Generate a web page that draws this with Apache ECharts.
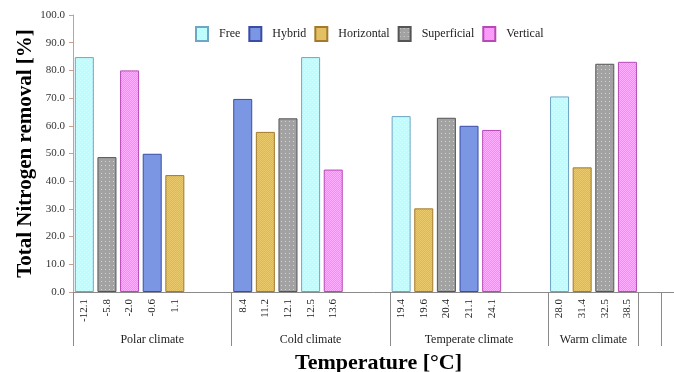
<!DOCTYPE html>
<html>
<head>
<meta charset="utf-8">
<script src="https://cdn.jsdelivr.net/npm/echarts@6/dist/echarts.min.js"></script>
<style>html,body{margin:0;padding:0;background:#fff;}#c{width:674px;height:372px;}</style>
</head>
<body>
<div id="c"></div>
<script>
// ---- data ----
const categories = ['-12.1','-5.8','-2.0','-0.6','1.1','','',
                    '8.4','11.2','12.1','12.5','13.6','','',
                    '19.4','19.6','20.4','21.1','24.1','','',
                    '28.0','31.4','32.5','38.5','',''];
const barTypes = ['Free','Superficial','Vertical','Hybrid','Horizontal','','',
                  'Hybrid','Horizontal','Superficial','Free','Vertical','','',
                  'Free','Horizontal','Superficial','Hybrid','Vertical','','',
                  'Free','Horizontal','Superficial','Vertical','',''];
const removal = [84.8,48.7,80.0,49.9,42.2,null,null,
                 69.7,57.8,62.7,84.8,44.2,null,null,
                 63.5,30.2,62.9,60.0,58.5,null,null,
                 70.6,45.0,82.4,83.1,null,null];
const seriesNames = ['Free','Hybrid','Horizontal','Superficial','Vertical'];
const groupNames = ['Polar climate','Cold climate','Temperate climate','Warm climate'];
const groupBounds = [0,7,14,21,25,26];
const groupCenters = [3.5,10.5,17.5,23];
const yTicks = [0,10,20,30,40,50,60,70,80,90,100];

// ---- styles ----
function pattern(base, dot, kind){
  const c = document.createElement('canvas');
  c.width = 4; c.height = 4;
  const g = c.getContext('2d');
  g.fillStyle = base; g.fillRect(0,0,4,4);
  g.fillStyle = dot;
  if (kind === 'dots') { g.fillRect(1,1,1,1); }
  else if (kind === 'checker') { g.fillRect(0,0,1,1); g.fillRect(2,0,1,1); g.fillRect(1,1,1,1); g.fillRect(3,1,1,1); g.fillRect(0,2,1,1); g.fillRect(2,2,1,1); g.fillRect(1,3,1,1); g.fillRect(3,3,1,1);}
  else if (kind === 'fine') { g.fillRect(0,0,1,1); g.fillRect(2,2,1,1); }
  return {image: c, repeat: 'repeat'};
}
const styles = {
  'Free':        {color: pattern('#BDFDFD', '#D2FFFF', 'fine'), borderColor: '#6EA6C6'},
  'Hybrid':      {color: '#7B96E2', borderColor: '#3A4DA6'},
  'Horizontal':  {color: pattern('#DDB858', '#E9C96C', 'checker'), borderColor: '#A37A2C'},
  'Superficial': {color: pattern('#A2A2A2', '#D4D4D4', 'dots'), borderColor: '#555555'},
  'Vertical':    {color: pattern('#FF84FF', '#FFAEFF', 'checker'), borderColor: '#B848B8'}
};

const series = seriesNames.map(name => ({
  name: name,
  type: 'bar',
  barWidth: 19,
  barGap: '-100%',
  xAxisIndex: 0,
  itemStyle: {color: styles[name].color, borderColor: styles[name].borderColor, borderWidth: 1},
  data: removal.map((v, i) => barTypes[i] === name ? v : null)
}));

const font = 'Liberation Serif';
const chart = echarts.init(document.getElementById('c'), null, {renderer: 'canvas'});
chart.setOption({
  animation: false,
  backgroundColor: '#fff',
  grid: {left: 73, right: -10, top: 15, bottom: 80, containLabel: false, outerBoundsMode: 'none'},
  legend: {
    data: seriesNames,
    left: 190, top: 21,
    itemWidth: 12, itemHeight: 14, itemGap: 8,
    icon: 'rect',
    textStyle: {fontFamily: font, fontSize: 12, color: '#222', padding: [0,0,0,6]}
  },
  xAxis: [
    {
      type: 'category',
      data: categories,
      axisLine: {lineStyle: {color: '#8a8a8a', width: 1}},
      axisTick: {interval: 0, length: 33, lineStyle: {color: '#8a8a8a'}},
      axisLabel: {interval: 0, rotate: 90, margin: 7, fontFamily: font, fontSize: 11, color: '#222'}
    },
    {
      type: 'value',
      min: 0, max: 27,
      position: 'bottom',
      axisLine: {show: false},
      splitLine: {show: false},
      axisTick: {show: true, customValues: groupBounds, length: 54, lineStyle: {color: '#8a8a8a'}},
      axisLabel: {customValues: groupCenters, margin: 42, fontFamily: font, fontSize: 12, color: '#222',
        formatter: v => groupNames[groupCenters.indexOf(v)] || ''},
      name: 'Temperature [°C]',
      nameLocation: 'middle',
      nameGap: 60,
      nameMoveOverlap: false,
      nameTextStyle: {fontFamily: font, fontSize: 22, fontWeight: 'bold', color: '#000'}
    }
  ],
  yAxis: {
    type: 'value',
    min: 0, max: 100, interval: 10,
    axisLine: {show: true, lineStyle: {color: '#C9A08A'}},
    axisTick: {show: true, length: 4, lineStyle: {color: '#C9A08A'}},
    splitLine: {show: false},
    axisLabel: {margin: 8, fontFamily: font, fontSize: 11, color: '#333',
      customValues: yTicks, formatter: v => v.toFixed(1)},
    name: 'Total Nitrogen removal [%]',
    nameLocation: 'middle',
    nameGap: 37,
    nameMoveOverlap: false,
    nameTextStyle: {fontFamily: font, fontSize: 21, fontWeight: 'bold', color: '#000'}
  },
  series: series
});
</script>
</body>
</html>
